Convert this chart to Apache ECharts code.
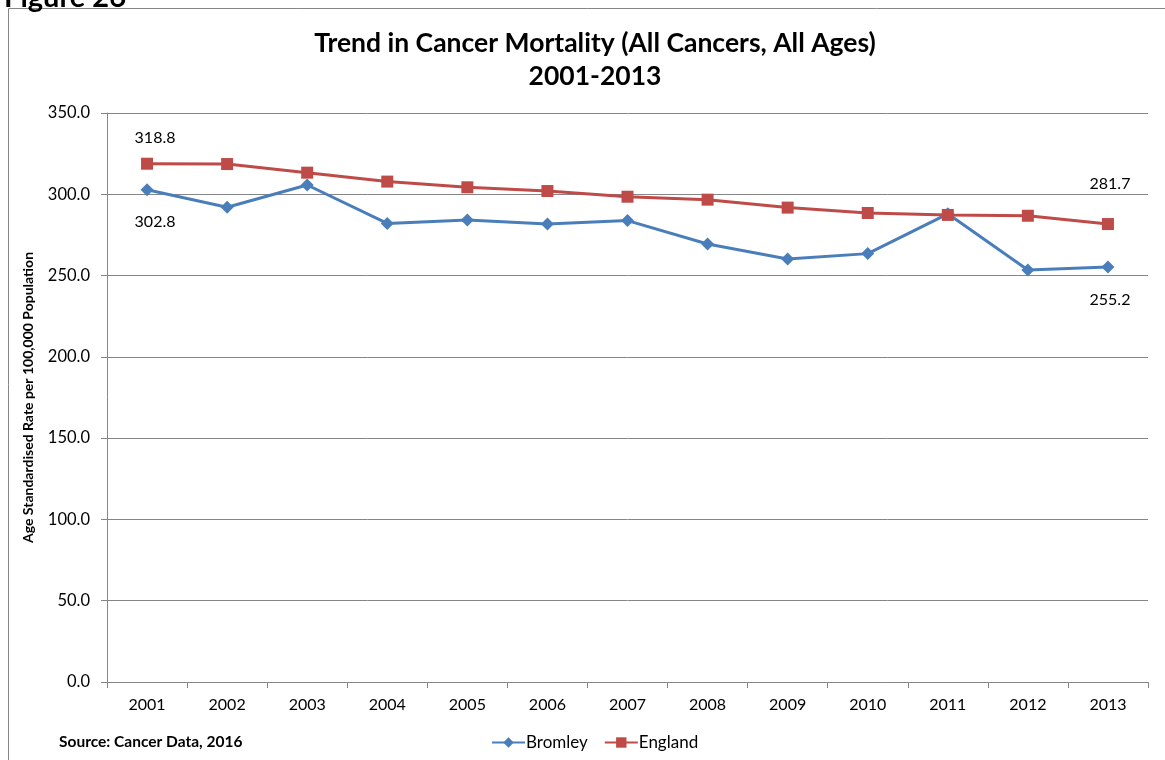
<!DOCTYPE html>
<html>
<head>
<meta charset="utf-8">
<style>
  html, body { margin: 0; padding: 0; background: #fff; }
  #chart { width: 1165px; height: 760px; }
</style>
</head>
<body>
<div id="chart"></div>
<script src="https://cdn.jsdelivr.net/npm/echarts@6/dist/echarts.min.js"></script>
<script>
var years = ['2001','2002','2003','2004','2005','2006','2007','2008','2009','2010','2011','2012','2013'];
var bromley = [302.8, 292.0, 305.7, 282.1, 284.2, 281.7, 283.8, 269.4, 260.2, 263.5, 288.0, 253.4, 255.2];
var england = [318.8, 318.6, 313.3, 307.8, 304.3, 302.0, 298.5, 296.7, 291.8, 288.5, 287.3, 286.8, 281.7];
var yTicks = [0, 50, 100, 150, 200, 250, 300, 350];

var font = 'Lato, "Open Sans", sans-serif';
var blue = '#4A7EBB';
var red = '#BE4B48';

// only first and last points carry a value label
function withLabels(vals, pos, dists) {
  return vals.map(function (v, i) {
    if (i === 0 || i === vals.length - 1) {
      return {
        value: v,
        label: {
          show: true, position: pos, distance: dists[i === 0 ? 0 : 1],
          offset: [i === 0 ? 8 : 2, 0],
          formatter: function (p) { return p.value.toFixed(1); },
          color: '#000', fontSize: 16, fontFamily: font
        }
      };
    }
    return v;
  });
}

var chart = echarts.init(document.getElementById('chart'));
chart.setOption({
  animation: false,
  textStyle: { fontFamily: font },
  graphic: [
    { type: 'rect', shape: { x: 8.5, y: 8.5, width: 1180, height: 780 },
      style: { fill: 'none', stroke: '#868686', lineWidth: 1 }, silent: true },
    { type: 'text', left: 4, top: -17,
      style: { text: 'Figure 26', fontSize: 29, fontWeight: 'bold', fill: '#000', fontFamily: font } },
    { type: 'text', left: 59, top: 734,
      style: { text: 'Source: Cancer Data, 2016', fontSize: 15.5, fontWeight: 'bold', fill: '#000', fontFamily: font } }
  ],
  title: {
    text: 'Trend in Cancer Mortality (All Cancers, All Ages)\n2001-2013',
    left: 590, top: 22, textAlign: 'center',
    textStyle: { fontSize: 26.5, fontWeight: 'bold', color: '#000', lineHeight: 33, fontFamily: font }
  },
  legend: {
    left: 486, top: 729,
    itemWidth: 33, itemHeight: 13, itemGap: 16,
    textStyle: { fontSize: 17, color: '#000', fontFamily: font, padding: [0, 0, 0, -4] },
    data: ['Bromley', 'England']
  },
  grid: { left: 107, right: 17, top: 113, bottom: 78 },
  xAxis: {
    type: 'category', data: years, boundaryGap: true,
    axisLine: { lineStyle: { color: '#868686' } },
    axisTick: { show: true, alignWithLabel: false, length: 6, lineStyle: { color: '#868686' } },
    axisLabel: { color: '#000', fontSize: 16, margin: 15, fontFamily: font }
  },
  yAxis: {
    type: 'value', min: yTicks[0], max: yTicks[yTicks.length - 1], interval: 50,
    name: 'Age Standardised Rate per 100,000 Population',
    nameLocation: 'middle', nameGap: 72,
    nameTextStyle: { fontSize: 14, fontWeight: 'bold', color: '#000', fontFamily: font },
    axisLine: { show: true, lineStyle: { color: '#868686' } },
    axisTick: { show: true, length: 6, lineStyle: { color: '#868686' } },
    splitLine: { lineStyle: { color: '#868686' } },
    axisLabel: { color: '#000', fontSize: 16.5, margin: 17, fontFamily: font,
      formatter: function (v) { return v.toFixed(1); } }
  },
  series: [
    {
      name: 'Bromley', type: 'line', data: withLabels(bromley, 'bottom', [18, 18]),
      symbol: 'diamond', symbolSize: 13,
      lineStyle: { color: blue, width: 3 }, itemStyle: { color: blue }
    },
    {
      name: 'England', type: 'line', data: withLabels(england, 'top', [12, 26]),
      symbol: 'rect', symbolSize: 12,
      lineStyle: { color: red, width: 3 }, itemStyle: { color: red }
    }
  ]
});
</script>
</body>
</html>
